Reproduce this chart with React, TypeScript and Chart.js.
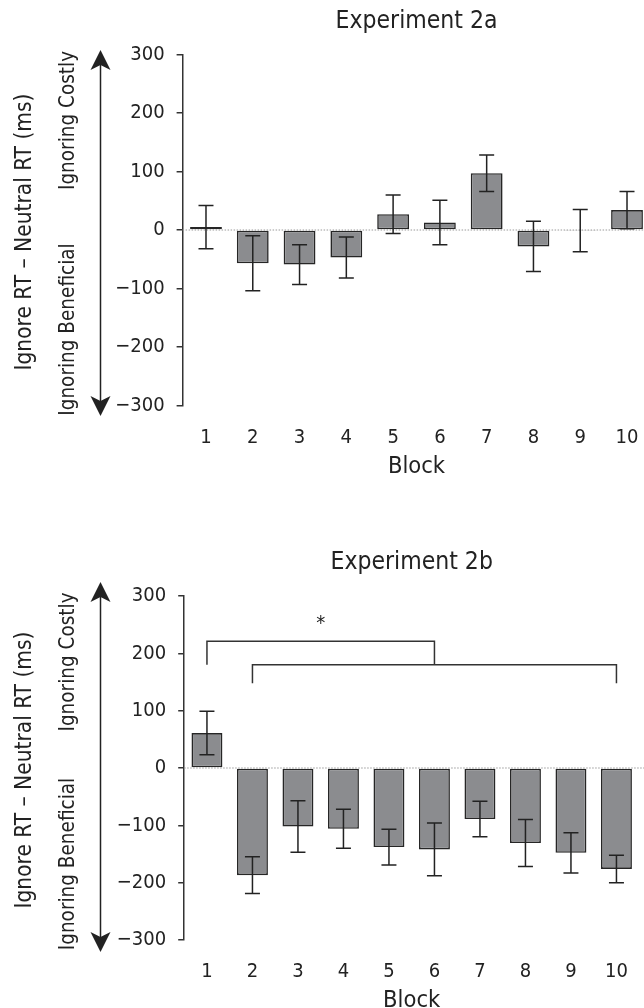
import React, { useEffect, useRef } from 'react';
import { Chart, registerables } from 'chart.js';

Chart.register(...registerables);

// ---------------- data ----------------
const blocks = ['1', '2', '3', '4', '5', '6', '7', '8', '9', '10'];
const yTickValues = [-300, -200, -100, 0, 100, 200, 300];

const exp2aMeans = [5, -57, -59, -47, 27, 13, 97, -28, -1, 34];
const exp2aErrors = [37, 47, 34, 35, 33, 38, 31, 43, 36, 32];

const exp2bMeans = [61, -187, -102, -106, -138, -142, -89, -131, -148, -176];
const exp2bErrors = [38, 32, 45, 34, 31, 46, 31, 41, 35, 24];

// significance brackets (Experiment 2b): block indices and heights in ms
const bracketStart = [0, 1];
const bracketEnd = [5, 9];
const bracketTop = [221, 180];
const bracketLegBottom = [180, 148];
const starIndex = 2.5;
const starValue = 252;

const yAxisTitle = 'Ignore RT \u2013 Neutral RT (ms)';
const costlyLabel = 'Ignoring Costly';
const beneficialLabel = 'Ignoring Beneficial';
const xAxisTitle = 'Block';

// ---------------- style ----------------
const FONT = "'DejaVu Sans Condensed', 'DejaVu Sans', sans-serif";
const INK = '#222222';
const BAR_FILL = '#8b8c8f';
const CANVAS_W = 652;

type PanelProps = {
  title: string;
  means: number[];
  errors: number[];
  height: number;
  area: { left: number; right: number; top: number; bottom: number };
  arrow: { top: number; bottom: number };
  brackets?: boolean;
};

function makeOverlay(p: PanelProps) {
  return {
    id: 'overlay',
    beforeDatasetsDraw(chart: any) {
      const { ctx, chartArea } = chart;
      const y = chart.scales.y.getPixelForValue(0);
      ctx.save();
      ctx.strokeStyle = '#9a9a9a';
      ctx.lineWidth = 1;
      ctx.setLineDash([1.5, 1.5]);
      ctx.beginPath();
      ctx.moveTo(chartArea.left, y);
      ctx.lineTo(chart.width, y);
      ctx.stroke();
      ctx.restore();
    },
    afterDatasetsDraw(chart: any) {
      const { ctx } = chart;
      const xs = chart.scales.x;
      const ys = chart.scales.y;
      ctx.save();
      ctx.strokeStyle = INK;
      ctx.lineWidth = 1.5;
      const cap = 7.5;
      p.means.forEach((m, i) => {
        const x = xs.getPixelForValue(i);
        const hi = ys.getPixelForValue(m + p.errors[i]);
        const lo = ys.getPixelForValue(m - p.errors[i]);
        ctx.beginPath();
        ctx.moveTo(x, hi);
        ctx.lineTo(x, lo);
        ctx.moveTo(x - cap, hi);
        ctx.lineTo(x + cap, hi);
        ctx.moveTo(x - cap, lo);
        ctx.lineTo(x + cap, lo);
        ctx.stroke();
      });
      if (p.brackets) {
        ctx.strokeStyle = '#333333';
        bracketStart.forEach((s, k) => {
          const x1 = xs.getPixelForValue(s);
          const x2 = xs.getPixelForValue(bracketEnd[k]);
          const yt = ys.getPixelForValue(bracketTop[k]);
          const yb = ys.getPixelForValue(bracketLegBottom[k]);
          ctx.beginPath();
          ctx.moveTo(x1, yb);
          ctx.lineTo(x1, yt);
          ctx.lineTo(x2, yt);
          ctx.lineTo(x2, yb);
          ctx.stroke();
        });
        ctx.fillStyle = INK;
        ctx.font = `20px ${FONT}`;
        ctx.textAlign = 'center';
        ctx.textBaseline = 'middle';
        ctx.fillText('*', xs.getPixelForValue(starIndex), ys.getPixelForValue(starValue));
      }
      ctx.restore();
    },
    afterDraw(chart: any) {
      const { ctx, chartArea } = chart;
      ctx.save();
      ctx.fillStyle = INK;
      ctx.textAlign = 'center';
      ctx.textBaseline = 'middle';
      const cx = (chartArea.left + chartArea.right) / 2;
      ctx.font = `24.5px ${FONT}`;
      ctx.fillText(p.title, cx, chartArea.top - 33);
      ctx.font = `23.5px ${FONT}`;
      ctx.fillText(xAxisTitle, cx, chartArea.bottom + 61);

      const cy = (chartArea.top + chartArea.bottom) / 2;
      ctx.textBaseline = 'alphabetic';
      ctx.save();
      ctx.translate(31, cy + 2);
      ctx.rotate(-Math.PI / 2);
      ctx.font = `22.5px ${FONT}`;
      ctx.fillText(yAxisTitle, 0, 0);
      ctx.restore();

      ctx.font = `20.5px ${FONT}`;
      ctx.save();
      ctx.translate(74, chartArea.top + 66);
      ctx.rotate(-Math.PI / 2);
      ctx.fillText(costlyLabel, 0, 0);
      ctx.restore();
      ctx.save();
      ctx.translate(74, chartArea.bottom - 76);
      ctx.rotate(-Math.PI / 2);
      ctx.fillText(beneficialLabel, 0, 0);
      ctx.restore();

      // double-headed arrow
      const ax = 100.5;
      const t = p.arrow.top;
      const b = p.arrow.bottom;
      ctx.strokeStyle = INK;
      ctx.lineWidth = 1.5;
      ctx.beginPath();
      ctx.moveTo(ax, t + 12);
      ctx.lineTo(ax, b - 12);
      ctx.stroke();
      ctx.beginPath();
      ctx.moveTo(ax, t);
      ctx.lineTo(ax - 10, t + 20);
      ctx.lineTo(ax, t + 15);
      ctx.lineTo(ax + 10, t + 20);
      ctx.closePath();
      ctx.fill();
      ctx.beginPath();
      ctx.moveTo(ax, b);
      ctx.lineTo(ax - 10, b - 20);
      ctx.lineTo(ax, b - 15);
      ctx.lineTo(ax + 10, b - 20);
      ctx.closePath();
      ctx.fill();
      ctx.restore();
    },
  };
}

function BarPanel(p: PanelProps) {
  const ref = useRef<HTMLCanvasElement>(null);
  useEffect(() => {
    const canvas = ref.current;
    if (!canvas) return;
    const tickFont = { family: FONT, size: 20 };
    const chart = new Chart(canvas, {
      type: 'bar',
      data: {
        labels: blocks,
        datasets: [
          {
            data: p.means,
            backgroundColor: BAR_FILL,
            borderColor: '#262626',
            borderWidth: 1.6,
            borderSkipped: false,
            barPercentage: 0.68,
            categoryPercentage: 1,
          },
        ],
      },
      options: {
        responsive: false,
        animation: false,
        devicePixelRatio: 1,
        layout: {
          padding: { left: 0, right: CANVAS_W - p.area.right, top: p.area.top, bottom: 0 },
        },
        plugins: { legend: { display: false }, tooltip: { enabled: false }, title: { display: false } },
        scales: {
          x: {
            type: 'category',
            offset: true,
            grid: { display: false },
            border: { display: false },
            ticks: { font: tickFont, color: INK, padding: 12, maxRotation: 0, autoSkip: false },
            afterFit: (s: any) => {
              s.height = p.height - p.area.bottom;
            },
          },
          y: {
            type: 'linear',
            min: -300,
            max: 300,
            afterBuildTicks: (s: any) => {
              s.ticks = yTickValues.map((v) => ({ value: v }));
            },
            ticks: {
              font: tickFont,
              color: INK,
              padding: 12,
              callback: (v: any) => (Number(v) < 0 ? '\u2212' + Math.abs(Number(v)) : String(v)),
            },
            grid: { drawOnChartArea: false, drawTicks: true, tickLength: 6, color: '#333333', lineWidth: 1.5 },
            border: { display: true, color: '#333333', width: 1.5 },
            afterFit: (s: any) => {
              s.width = p.area.left;
            },
          },
        },
      },
      plugins: [makeOverlay(p)],
    } as any);
    return () => chart.destroy();
  }, []);
  return <canvas ref={ref} width={CANVAS_W} height={p.height} style={{ display: 'block' }} />;
}

export default function App() {
  return (
    <div
      style={{
        position: 'absolute',
        left: 0,
        top: 0,
        width: 644,
        height: 1008,
        overflow: 'hidden',
        background: '#ffffff',
      }}
    >
      <div style={{ position: 'absolute', left: 0, top: 0 }}>
        <BarPanel
          title="Experiment 2a"
          means={exp2aMeans}
          errors={exp2aErrors}
          height={500}
          area={{ left: 182.6, right: 650.4, top: 54.5, bottom: 405.5 }}
          arrow={{ top: 50, bottom: 416 }}
        />
      </div>
      <div style={{ position: 'absolute', left: 0, top: 504 }}>
        <BarPanel
          title="Experiment 2b"
          means={exp2bMeans}
          errors={exp2bErrors}
          height={504}
          area={{ left: 184.2, right: 639.2, top: 92, bottom: 436 }}
          arrow={{ top: 78, bottom: 448 }}
          brackets
        />
      </div>
    </div>
  );
}
